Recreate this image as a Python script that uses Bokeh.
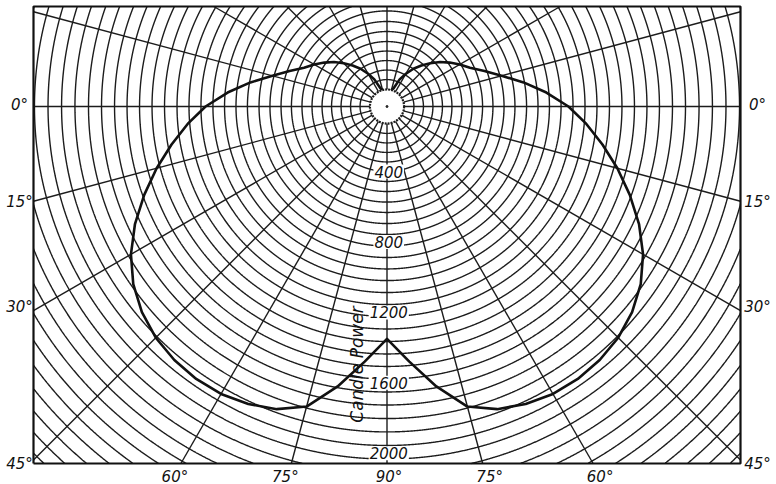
import numpy as np
from bokeh.plotting import figure
from bokeh.models import Range1d
from bokeh.core.properties import value
from bokeh.embed import file_html
from bokeh.resources import INLINE

# Candle-power distribution (angle below the horizontal, degrees; negative = above)
angles_deg = [-90, -85, -80, -75, -70, -65, -60, -55, -50, -45, -40, -35, -30, -25,
              -20, -15, -10, -5, 0, 5, 10, 15, 20, 25, 30, 35, 40, 45, 50, 55, 60,
              65, 70, 75, 80, 85, 90]
candle_power = [0, 35, 70, 95, 110, 170, 215, 262, 304, 348, 393, 435, 478, 520,
                589, 674, 788, 909, 1031, 1137, 1243, 1355, 1468, 1580, 1680, 1760,
                1818, 1858, 1880, 1890, 1886, 1865, 1830, 1765, 1615, 1455, 1320]

# Polar grid: ring values (candle power) and spoke angles
ring_values = [153, 207, 261, 315, 369, 426, 483, 543, 602, 665, 727, 793, 858,
               923, 989, 1057, 1125, 1193, 1264, 1335, 1406, 1477, 1548, 1622, 1696,
               1773, 1849, 1926, 2003, 2084, 2165, 2246, 2327, 2408, 2489, 2570,
               2651, 2732, 2813, 2894]
pole_circle = 97
spoke_angles = list(range(0, 360, 15))
scale_labels = ["400", "800", "1200", "1600", "2000"]
scale_values = [400, 800, 1200, 1600, 2000]
side_labels = ["0°", "15°", "30°", "45°"]
side_angles = [0, 15, 30, 45]
bottom_labels = ["60°", "75°", "90°", "75°", "60°"]
bottom_angles = [60, 75, 90, 105, 120]

W, H = 776, 484
S = 0.176            # pixels per candle power
CX, CY = 386.5, 106  # pole position in pixels
X0, X1 = -(CX - 33) / S, (740 - CX) / S
Y0, Y1 = -(463 - CY) / S, (CY - 6) / S

p = figure(width=W, height=H, output_backend="svg", toolbar_location=None,
           x_axis_type=None, y_axis_type=None,
           x_range=Range1d(-CX / S, (W - CX) / S),
           y_range=Range1d(-(H - CY) / S, CY / S))
p.min_border = 0
p.outline_line_color = None
p.grid.visible = False
p.background_fill_color = "white"


def inside(x, y):
    return (x >= X0) & (x <= X1) & (y >= Y0) & (y <= Y1)


# rings, clipped to the frame
t = np.linspace(0, 2 * np.pi, 4000)
rx, ry = [], []
for r in ring_values:
    x = r * np.cos(t)
    y = r * np.sin(t)
    m = inside(x, y)
    rx.append(np.where(m, x, np.nan))
    ry.append(np.where(m, y, np.nan))
p.multi_line(rx, ry, line_color="#1c1c1c", line_width=1.4)

# spokes from the pole circle out to the frame
sx, sy = [], []
for a in spoke_angles:
    th = np.radians(a)
    c, s = np.cos(th), -np.sin(th)
    ts = []
    if c > 1e-9:
        ts.append(X1 / c)
    if c < -1e-9:
        ts.append(X0 / c)
    if s > 1e-9:
        ts.append(Y1 / s)
    if s < -1e-9:
        ts.append(Y0 / s)
    tm = min(ts)
    sx.append([pole_circle * c, tm * c])
    sy.append([pole_circle * s, tm * s])
p.multi_line(sx, sy, line_color="#1c1c1c", line_width=1.4)

# frame
p.line([X0, X1, X1, X0, X0], [Y0, Y0, Y1, Y1, Y0], line_color="#111111", line_width=2.2)

# distribution curve (both halves)
th = np.radians(angles_deg)
cp = np.array(candle_power, dtype=float)
lx = -cp * np.cos(th)
ly = -cp * np.sin(th)
xs = np.concatenate([lx, -lx[::-1]])
ys = np.concatenate([ly, ly[::-1]])
p.line(xs, ys, line_color="#111111", line_width=2.6, line_join="round")

# small circle round the pole, covering the curve's meeting point
p.circle(x=[0], y=[0], radius=pole_circle, fill_color="white", line_color="#1c1c1c",
         line_width=2.2, line_dash="2 1")
p.scatter(x=[0], y=[0], size=2, color="#222222")

font = value("DejaVu Sans")
common = dict(text_font=font, text_font_style="italic", text_color="#111111",
              text_align="center", text_baseline="middle")

# scale figures on the vertical
p.text(x=[10] * len(scale_values), y=[-v + 30 for v in scale_values], text=scale_labels,
       text_font_size="15px", background_fill_color="white", padding=1, **common)

p.text(x=[-168], y=[-1466], text=["Candle Power"], angle=np.pi / 2,
       text_font_size="17px", **common)

# angle figures round the frame
side_px = [104, 201, 306, 463]
lyv = [-(v - CY) / S for v in side_px]
p.text(x=[X0 - 14 / S] * 4, y=lyv, text=side_labels, text_font_size="15px", **common)
p.text(x=[X1 + 17 / S] * 4, y=lyv, text=side_labels, text_font_size="15px", **common)
bx = []
for a in bottom_angles:
    if a == 90:
        bx.append(2 / S)
    else:
        d = (-Y0) / np.tan(np.radians(a))
        bx.append(-d - (6 / S if d > 0 else -7 / S))
p.text(x=bx, y=[Y0 - 13 / S] * 5, text=bottom_labels, text_font_size="15px", **common)

open("out.html", "w").write(file_html(p, INLINE))
